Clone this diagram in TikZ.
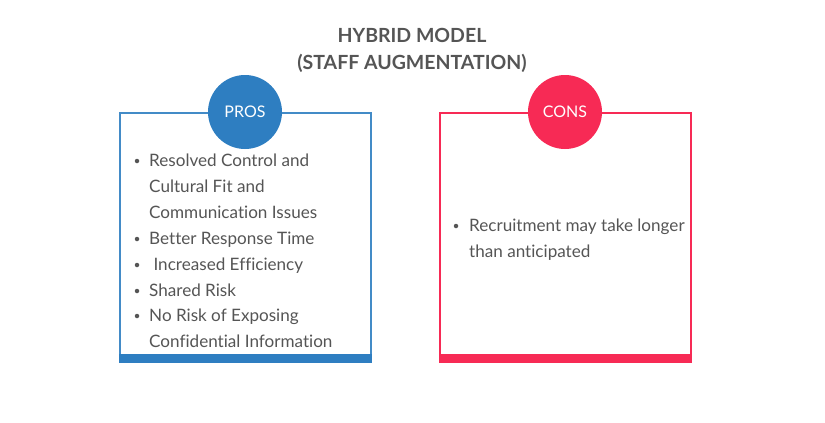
\documentclass[tikz,border=0pt]{standalone}
\usepackage{fontspec}
\setmainfont{Lato}[RawFeature={-liga;-dlig;-clig}]
\definecolor{problue}{HTML}{2E7EC1}
\definecolor{conred}{HTML}{F72A55}
\definecolor{txtgray}{HTML}{555555}
\begin{document}
\begin{tikzpicture}[x=1pt,y=-1pt,
  boxline/.style={line width=1.6pt},
  badge/.style={circle, minimum size=74pt, inner sep=0pt, text=white, font=\fontsize{16}{18}\selectfont},
  item/.style={anchor=base west, text=txtgray, font=\fontsize{17.1}{20}\selectfont, inner sep=0pt},
  bul/.style={circle, fill=txtgray, minimum size=4.5pt, inner sep=0pt},
  titlestyle/.style={text=txtgray, font=\bfseries\fontsize{19.5}{27}\selectfont, align=center}]
\useasboundingbox (0,0) rectangle (825,423);
\fill[white] (0,0) rectangle (825,423);
% title
\node[titlestyle] (title) at (412,50) {HYBRID MODEL\\(STAFF AUGMENTATION)};
% PROS box
\draw[boxline, problue!90!white] (120,354) -- (120,113) -- (371,113) -- (371,354);
\fill[problue] (119.2,354) rectangle (371.8,363);
\node[badge, fill=problue] (pros) at (245,112) {PROS};
% CONS box
\draw[boxline, conred] (440,354) -- (440,113) -- (691,113) -- (691,354);
\fill[conred] (439.2,354) rectangle (691.8,363);
\node[badge, fill=conred] (cons) at (565,112) {CONS};
% PROS items
\foreach \y in {160,238,264,290,315} \node[bul] at (137,\y+1) {};
\node[item] (p1) at (149,166) {Resolved Control and};
\node[item] (p2) at (149,192) {Cultural Fit and};
\node[item] (p3) at (149,218) {Communication Issues};
\node[item] (p4) at (149,244) {Better Response Time};
\node[item] (p5) at (149,270) {\ Increased Efficiency};
\node[item] (p6) at (149,296) {Shared Risk};
\node[item] (p7) at (149,321) {No Risk of Exposing};
\node[item] (p8) at (149,347) {Confidential Information};
% CONS items
\node[bul] at (456,226) {};
\node[item] (c1) at (469,231) {Recruitment may take longer};
\node[item] (c2) at (469,257) {than anticipated};
\end{tikzpicture}
\end{document}
